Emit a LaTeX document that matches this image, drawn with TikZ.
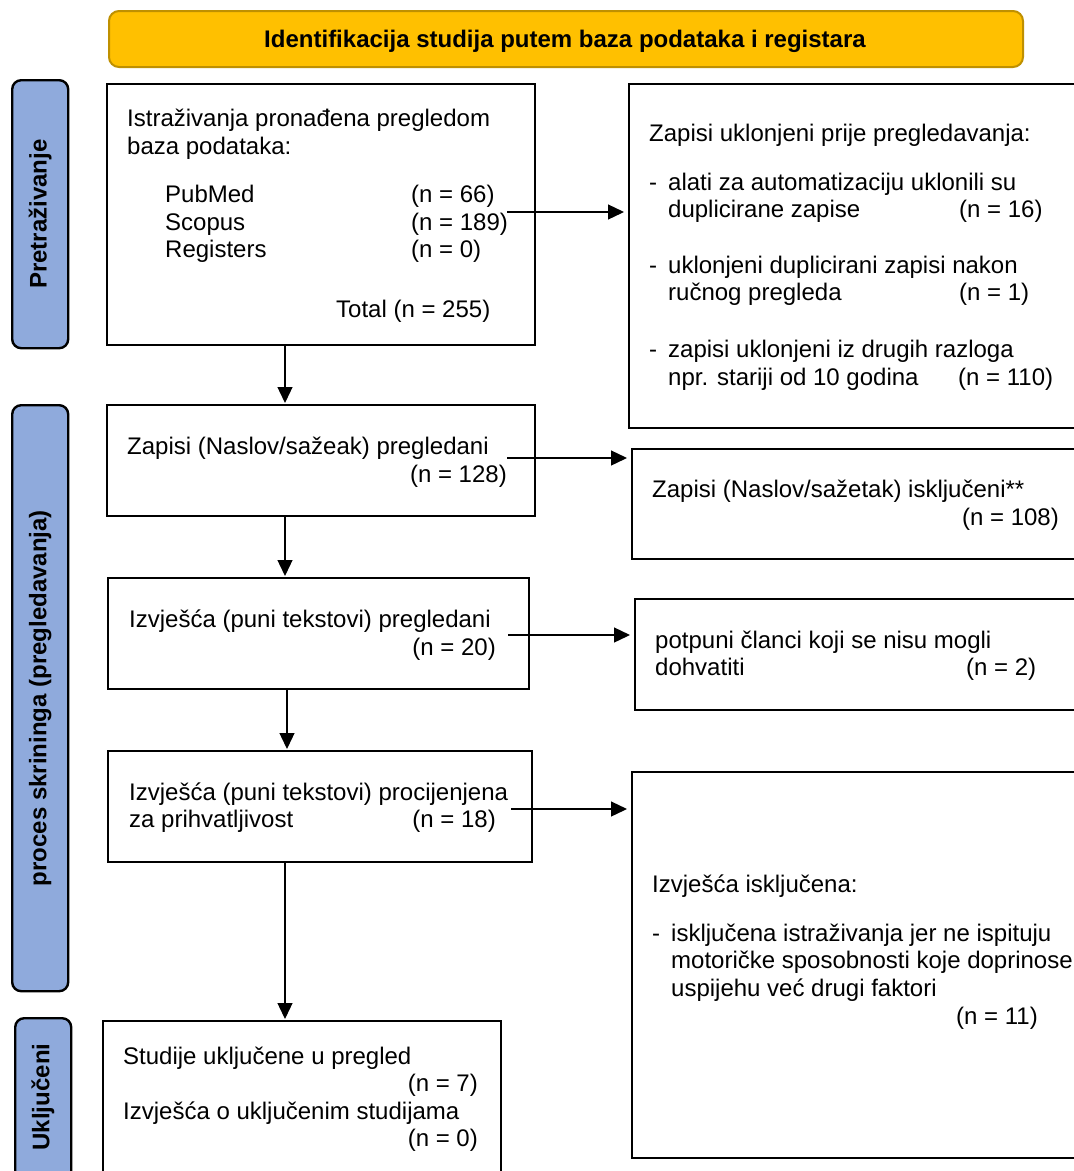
\documentclass[tikz,border=0pt]{standalone}
\usepackage{fontspec}
\setmainfont{Liberation Sans}
\usetikzlibrary{arrows.meta}
\definecolor{gold}{HTML}{FFC000}
\definecolor{golddark}{HTML}{BF9000}
\definecolor{sideblue}{HTML}{8FAADC}
\newcommand\fsz{\fontsize{24}{27.6}\selectfont}
\begin{document}
\begin{tikzpicture}[x=1pt,y=-1pt,
  box/.style={draw=black, line width=2.4pt, fill=white, inner sep=0pt, anchor=north west},
  lab/.style={draw=black, line width=2.4pt, fill=sideblue, rounded corners=9pt, inner sep=0pt, anchor=north west},
  labtxt/.style={inner sep=0pt, rotate=90, font=\fsz\bfseries},
  banner/.style={draw=golddark, line width=2pt, fill=gold, rounded corners=10pt, inner sep=0pt, anchor=north west},
  tx/.style={inner sep=0pt, anchor=base west, font=\fsz},
  txr/.style={inner sep=0pt, anchor=base east, font=\fsz},
  arr/.style={line width=1.3pt, -{Triangle[length=16pt,width=15pt]}, shorten >=1pt},
  harr/.style={arr, shorten >=4pt}]
\path[use as bounding box] (0,0) rectangle (1074,1171);
\fill[white] (0,0) rectangle (1074,1171);
\clip (0,0) rectangle (1074,1171);

% banner
\node[banner, minimum width=914pt, minimum height=56pt] (ban) at (108,10) {};
\node[inner sep=0pt, anchor=base, font=\fsz\bfseries] (bantxt) at (565,47) {Identifikacija studija putem baza podataka i registara};

% side labels
\node[lab, minimum width=56pt, minimum height=268pt] (l1) at (11,79) {};
\node[labtxt] (l1t) at (l1.center) {Pretraživanje};
\node[lab, minimum width=56pt, minimum height=586pt] (l2) at (11,404) {};
\node[labtxt] (l2t) at (l2.center) {proces skrininga (pregledavanja)};
\node[lab, minimum width=56pt, minimum height=200pt] (l3) at (14,1017) {};
\node[labtxt] (l3t) at (43,1097) {Uključeni};

% left column boxes
\node[box, minimum width=428pt, minimum height=261pt] (b1) at (106,83) {};
\node[box, minimum width=428pt, minimum height=111pt] (b2) at (106,404) {};
\node[box, minimum width=421pt, minimum height=111pt] (b3) at (107,577) {};
\node[box, minimum width=424pt, minimum height=111pt] (b4) at (107,750) {};
\node[box, minimum width=398pt, minimum height=200pt] (b5) at (102,1020) {};

% right column boxes
\node[box, minimum width=500pt, minimum height=344pt] (r1) at (628,83) {};
\node[box, minimum width=500pt, minimum height=110pt] (r2) at (631,448) {};
\node[box, minimum width=500pt, minimum height=111pt] (r3) at (634,598) {};
\node[box, minimum width=500pt, minimum height=386pt] (r4) at (631,771) {};

% box 1 text
\node[tx] (t11) at (127,126) {Istraživanja pronađena pregledom};
\node[tx] (t12) at (127,154) {baza podataka:};
\node[tx] (t13) at (165,202) {PubMed};
\node[tx] (t14) at (411,202) {(n = 66)};
\node[tx] (t15) at (165,230) {Scopus};
\node[tx] (t16) at (411,230) {(n = 189)};
\node[tx] (t17) at (165,257) {Registers};
\node[tx] (t18) at (411,257) {(n = 0)};
\node[tx] (t19) at (336,317) {Total (n = 255)};

% box 2 text
\node[tx] (t21) at (127,454) {Zapisi (Naslov/sažeak) pregledani};
\node[txr] (t22) at (507,482) {(n = 128)};

% box 3 text
\node[tx] (t31) at (129,627) {Izvješća (puni tekstovi) pregledani};
\node[txr] (t32) at (496,655) {(n = 20)};

% box 4 text
\node[tx] (t41) at (129,800) {Izvješća (puni tekstovi) procijenjena};
\node[tx] (t42) at (129,827) {za prihvatljivost};
\node[txr] (t43) at (496,827) {(n = 18)};

% box 5 text
\node[tx] (t51) at (123,1064) {Studije uključene u pregled};
\node[txr] (t52) at (478,1091) {(n = 7)};
\node[tx] (t53) at (123,1119) {Izvješća o uključenim studijama};
\node[txr] (t54) at (478,1146) {(n = 0)};

% R1 text
\node[tx] (u11) at (649,141) {Zapisi uklonjeni prije pregledavanja:};
\node[tx] (u12) at (649,190) {-};
\node[tx] (u13) at (668,190) {alati za automatizaciju uklonili su};
\node[tx] (u14) at (668,217) {duplicirane zapise};
\node[tx] (u15) at (959,217) {(n = 16)};
\node[tx] (u16) at (649,273) {-};
\node[tx] (u17) at (668,273) {uklonjeni duplicirani zapisi nakon};
\node[tx] (u18) at (668,300) {ručnog pregleda};
\node[tx] (u19) at (959,300) {(n = 1)};
\node[tx] (u1a) at (649,357) {-};
\node[tx] (u1b) at (668,357) {zapisi uklonjeni iz drugih razloga};
\node[tx] (u1c) at (668,385) {npr. stariji od 10 godina};
\node[tx] (u1d) at (958,385) {(n = 110)};

% R2 text
\node[tx] (u21) at (652,497) {Zapisi (Naslov/sažetak) isključeni**};
\node[txr] (u22) at (1059,525) {(n = 108)};

% R3 text
\node[tx] (u31) at (655,648) {potpuni članci koji se nisu mogli};
\node[tx] (u32) at (655,675) {dohvatiti};
\node[tx] (u33) at (966,675) {(n = 2)};

% R4 text
\node[tx] (u41) at (652,892) {Izvješća isključena:};
\node[tx] (u42) at (652,941) {-};
\node[tx] (u43) at (671,941) {isključena istraživanja jer ne ispituju};
\node[tx] (u44) at (671,968) {motoričke sposobnosti koje doprinose};
\node[tx] (u45) at (671,996) {uspijehu već drugi faktori};
\node[tx] (u46) at (956,1024) {(n = 11)};

% connectors
\coordinate (v1) at (285,0);
\coordinate (v3) at (287,0);
\draw[arr] (b1.south -| v1) -- (b2.north -| v1);
\draw[arr] (b2.south -| v1) -- (b3.north -| v1);
\draw[arr] (b3.south -| v3) -- (b4.north -| v3);
\draw[arr] (b4.south -| v1) -- (b5.north -| v1);

\coordinate (h1) at (507,212);
\coordinate (h2) at (507,458);
\coordinate (h3) at (508,635);
\coordinate (h4) at (511,809);
\draw[harr] (h1) -- (r1.west |- h1);
\draw[harr] (h2) -- (r2.west |- h2);
\draw[harr] (h3) -- (r3.west |- h3);
\draw[harr] (h4) -- (r4.west |- h4);
\end{tikzpicture}
\end{document}
